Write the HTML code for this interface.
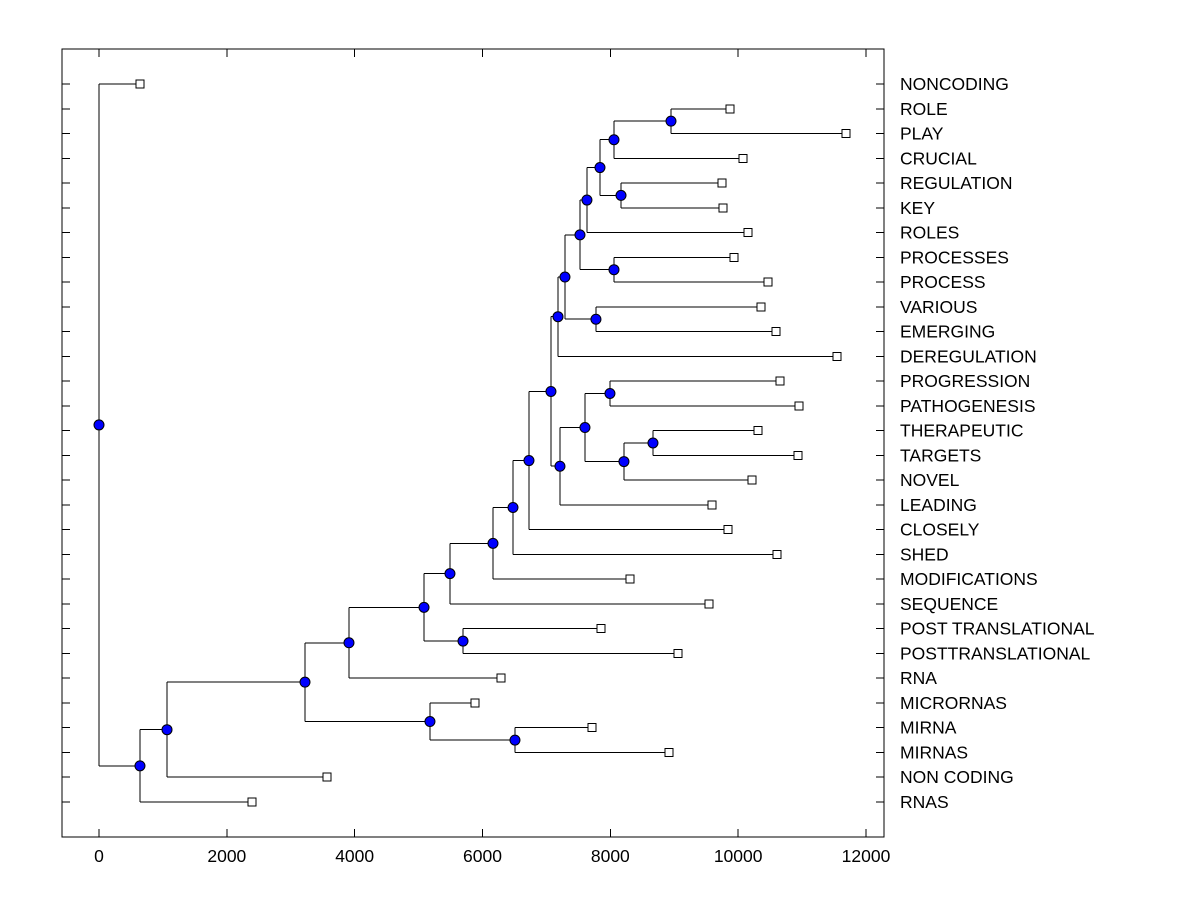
<!DOCTYPE html>
<html><head><meta charset="utf-8"><style>body{margin:0;background:#fff}svg text{font-family:"Liberation Sans",Arial,sans-serif}</style></head>
<body>
<svg id="chart" width="1200" height="900" xmlns="http://www.w3.org/2000/svg" shape-rendering="crispEdges"></svg>
<script>
const leafLabels = ["NONCODING","ROLE","PLAY","CRUCIAL","REGULATION","KEY","ROLES","PROCESSES","PROCESS","VARIOUS","EMERGING","DEREGULATION","PROGRESSION","PATHOGENESIS","THERAPEUTIC","TARGETS","NOVEL","LEADING","CLOSELY","SHED","MODIFICATIONS","SEQUENCE","POST TRANSLATIONAL","POSTTRANSLATIONAL","RNA","MICRORNAS","MIRNA","MIRNAS","NON CODING","RNAS"];
const leafValues = [641,9872,11687,10075,9747,9762,10153,9934,10466,10357,10591,11546,10654,10951,10310,10935,10216,9590,9841,10607,8307,9543,7854,9058,6289,5882,7713,8918,3567,2394];
// internal nodes: [name, height, childA, childB]
const nodeNames = ["AB","Z","AA","Y","W","X","U","V","T","N","Q","S","R","P","O","M","L","K","J","H","I","G","D","F","E","C","B","A","root"];
const nodeHeights = [8949,8057,8167,7838,7634,8057,7525,7775,7290,7181,7994,8667,8213,7603,7212,7071,6727,6477,6164,5491,5695,5085,3911,6508,5178,3223,1064,641,0];
const nodeChildren = [["ROLE","PLAY"],["AB","CRUCIAL"],["REGULATION","KEY"],["Z","AA"],["Y","ROLES"],["PROCESSES","PROCESS"],["W","X"],["VARIOUS","EMERGING"],["U","V"],["T","DEREGULATION"],["PROGRESSION","PATHOGENESIS"],["THERAPEUTIC","TARGETS"],["S","NOVEL"],["Q","R"],["P","LEADING"],["N","O"],["M","CLOSELY"],["L","SHED"],["K","MODIFICATIONS"],["J","SEQUENCE"],["POST TRANSLATIONAL","POSTTRANSLATIONAL"],["H","I"],["G","RNA"],["MIRNA","MIRNAS"],["MICRORNAS","F"],["D","E"],["C","NON CODING"],["B","RNAS"],["NONCODING","A"]];
const xTicks = [0,2000,4000,6000,8000,10000,12000];

const svg=document.getElementById('chart');const NS="http://www.w3.org/2000/svg";
const L=62,R=884,T=49,B=837;
const xs=v=>99+v*(767/12000);
const ys=i=>84+i*(718/29);
function mk(tag,attrs,name){const e=document.createElementNS(NS,tag);for(const k in attrs)e.setAttribute(k,attrs[k]);


svg.appendChild(e);return e;}
mk('rect',{x:L,y:T,width:R-L,height:B-T,fill:'none',stroke:'#000','stroke-width':1},'plot-frame');
xTicks.forEach(t=>{const x=xs(t);
mk('line',{x1:x,x2:x,y1:B,y2:B-8,stroke:'#000'},'x-tick');
mk('line',{x1:x,x2:x,y1:T,y2:T+8,stroke:'#000'},'x-tick-top');
const tx=mk('text',{x:x,y:862,'font-size':17.5,'text-anchor':'middle'},'x-tick-label');tx.textContent=t;});
leafLabels.forEach((l,i)=>{const y=ys(i);
mk('line',{x1:L,x2:L+8,y1:y,y2:y,stroke:'#000'},'y-tick');
mk('line',{x1:R,x2:R-8,y1:y,y2:y,stroke:'#000'},'y-tick-right');
const tx=mk('text',{x:900,y:y+6,'font-size':17.5},'leaf-label');tx.textContent=l;});
const pos={};
leafLabels.forEach((l,i)=>pos[l]={x:xs(leafValues[i]),y:ys(i)});
nodeNames.forEach((n,k)=>{const a=pos[nodeChildren[k][0]],b=pos[nodeChildren[k][1]];pos[n]={x:xs(nodeHeights[k]),y:(a.y+b.y)/2};});
nodeNames.forEach((n,k)=>{const p=pos[n];const cs=nodeChildren[k].map(c=>pos[c]);
mk('line',{x1:p.x,x2:p.x,y1:cs[0].y,y2:cs[1].y,stroke:'#000'},'branch-vertical');
cs.forEach(c=>mk('line',{x1:p.x,x2:c.x,y1:c.y,y2:c.y,stroke:'#000'},'branch-horizontal'));});
leafLabels.forEach(l=>{const p=pos[l];mk('rect',{x:p.x-4,y:p.y-4,width:8,height:8,fill:'#fff',stroke:'#000'},'leaf-marker');});
nodeNames.forEach(n=>{const p=pos[n];const c=mk('circle',{cx:p.x,cy:p.y,r:5,fill:'#0000ff',stroke:'#000'},'node-marker');c.setAttribute('shape-rendering','auto');});
</script>
</body></html>
